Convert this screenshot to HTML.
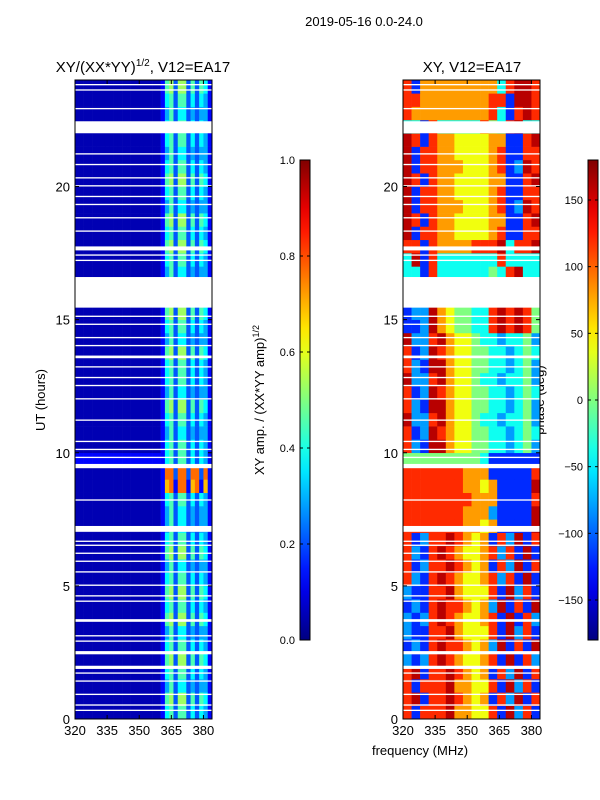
<!DOCTYPE html>
<html><head><meta charset="utf-8">
<style>
body{margin:0;background:#fff;}
svg{display:block;font-family:"Liberation Sans","DejaVu Sans",sans-serif;}
</style></head>
<body>
<svg id="chart" width="600" height="800" viewBox="0 0 600 800" xmlns="http://www.w3.org/2000/svg">
<text x="364" y="26" font-size="13" text-anchor="middle">2019-05-16 0.0-24.0</text>
<text x="143" y="72" font-size="15" text-anchor="middle">XY/(XX*YY)<tspan font-size="10" dy="-6">1/2</tspan><tspan dy="6">, V12=EA17</tspan></text>
<text x="472" y="72" font-size="15" text-anchor="middle">XY, V12=EA17</text>
<text x="420" y="755" font-size="13" text-anchor="middle">frequency (MHz)</text>
<text x="45" y="400" font-size="13" text-anchor="middle" transform="rotate(-90 45 400)">UT (hours)</text>
<text x="264" y="400" font-size="13" text-anchor="middle" transform="rotate(-90 264 400)">XY amp. / (XX*YY amp)<tspan font-size="9" dy="-5">1/2</tspan></text>
<text x="544" y="400" font-size="13" text-anchor="middle" transform="rotate(-90 544 400)">phase (deg)</text>
<g id="left"></g>
<g id="right"></g>
<g id="flags"></g>
<g id="axes"></g>
<g id="cbars"></g>
</svg>
<script>
// ---- data ----
const freqBinsLeft = 32;      // 2 MHz channels, 320-384
const freqBinsRight = 16;     // 4 MHz channels, 320-384
// amplitude rows (0.5 h each, from 0 h upward); digit d -> amp 0.05+0.08*d
const ampRows = [
"00000000000000000000145255242431","00000000000000000000156266252541","00000000000000000000135244232331",
"00000000000000000000145255242431","00000000000000000000156266252541","00000000000000000000145255242431",
"00000000000000000000135244232331","00000000000000000000156266252541","00000000000000000000145255242431",
"00000000000000000000156266252541","00000000000000000000145255242431","00000000000000000000135244232331",
"00000000000000000000156266252541","00000000000000000000145255242431","00000000000000000000135244232331",
"00000000000000000000135244232331","00000000000000000000145255242431","00000000000000000000189199189181",
"00000000000000000000199299299291","11111111111111111111145255242431","00000000000000000000145255242431",
"00000000000000000000135244232331","00000000000000000000145255242431","00000000000000000000156266252541",
"00000000000000000000135244232331","00000000000000000000145255242431","00000000000000000000145255242431",
"00000000000000000000156266252541","00000000000000000000135244232331","00000000000000000000145255242431",
"00000000000000000000156266252541","00000000000000000000145255242431","00000000000000000000145255242431",
"00000000000000000000135244232331","00000000000000000000145255242431","00000000000000000000156266252541",
"00000000000000000000145255242431","00000000000000000000156266252541","00000000000000000000135244232331",
"00000000000000000000145255242431","00000000000000000000156266252541","00000000000000000000145255242431",
"00000000000000000000135244232331","00000000000000000000145255242431","00000000000000000000145255242431",
"00000000000000000000135244232331","00000000000000000000145255242431","00000000000000000000156266252541"];
// phase rows (0.5 h each); digit d -> phase -160+40*d deg
const phaseRows = [
"7177786655718271","7817787656172817","7177786655718271","7817787656172817",
"2127876556718172","1217877656281718","2117786555718271","2127876556718172","1217877656281718","2117786555718271",
"7217876556727181","7127787656172817","7217876556727181","7127787656172817",
"7777777665611118","7777777666211118","7777777766611117","7777777665611118","7777777666111117",
"4444444443111111",
"7218865544332342","7128765544332343","8227865543323342","7218865544332342","7128765544332343",
"8227865543323342","7218865544332342","7128765544332343","8227865543323342",
"1128654433787874","1228654433787874",
"3333333333333333","3333333333333333",
"3317333333437833","3817333333373333","7717666677783778",
"8177665555671177","8717665555661178","8177666555671287","8177665555671177","8717665555661178",
"8177666555671287","8177665555671177","8717665555661178",
"3317333337437833","7666666666731787","7766666666771887","7166666666637887"];
// flagged (blanked) time ranges in hours
const flagStart = [15.45,22.0,9.42,7.03,2.43,1.88,17.6,3.65,13.55,0.3,0.5,0.9,1.4,1.7,2.9,3.1,4.4,4.6,5.0,5.5,5.9,6.2,6.5,6.65,8.2,9.8,10.1,10.4,11.2,12.0,12.5,12.8,13.2,14.0,14.3,14.8,15.1,17.2,17.4,18.3,18.8,19.3,19.6,20.0,20.3,20.8,21.2,22.9,23.6,23.8];
const flagEnd   = [16.6,22.45,9.58,7.25,2.55,2.0,17.75,3.75,13.65,0.35,0.55,0.95,1.45,1.75,2.95,3.15,4.45,4.65,5.05,5.55,5.95,6.25,6.55,6.7,8.25,9.85,10.15,10.45,11.25,12.05,12.55,12.85,13.25,14.05,14.35,14.85,15.15,17.25,17.45,18.35,18.85,19.35,19.65,20.05,20.35,20.85,21.25,22.95,23.65,23.85];
const xTicks = [320,335,350,365,380];
const yTicks = [0,5,10,15,20];
const ampTicks = [0.0,0.2,0.4,0.6,0.8,1.0];
const phaseTicks = [-150,-100,-50,0,50,100,150];

// ---- helpers ----
const NS="http://www.w3.org/2000/svg";
function jet(v){v=Math.max(0,Math.min(1,v));
 const r=Math.max(0,Math.min(1,1.5-Math.abs(4*v-3)));
 const g=Math.max(0,Math.min(1,1.5-Math.abs(4*v-2)));
 const b=Math.max(0,Math.min(1,1.5-Math.abs(4*v-1)));
 return `rgb(${Math.round(r*255)},${Math.round(g*255)},${Math.round(b*255)})`;}
function mk(tag,attrs,parent){const e=document.createElementNS(NS,tag);for(const k in attrs)e.setAttribute(k,attrs[k]);parent.appendChild(e);return e;}
const Y0=719,Y1=80;
function yS(h){return Y0-(h/24)*(Y0-Y1);}
function xSL(f){return 75+(f-320)/64*137;}
function xSR(f){return 403+(f-320)/64*137;}

const L=document.getElementById('left'),R=document.getElementById('right'),F=document.getElementById('flags');
ampRows.forEach((row,ri)=>{
 for(let c=0;c<freqBinsLeft;c++){
  const f0=320+c*64/freqBinsLeft,f1=f0+64/freqBinsLeft;
  const r=mk('rect',{x:xSL(f0),y:yS(ri*0.5+0.5),width:xSL(f1)-xSL(f0)+0.3,height:yS(ri*0.5)-yS(ri*0.5+0.5)+0.3,fill:jet(0.05+0.08*(+row[c]))},L);
  
  
 }});
phaseRows.forEach((row,ri)=>{
 for(let c=0;c<freqBinsRight;c++){
  const f0=320+c*64/freqBinsRight,f1=f0+64/freqBinsRight;
  const ph=-160+40*(+row[c]);
  const r=mk('rect',{x:xSR(f0),y:yS(ri*0.5+0.5),width:xSR(f1)-xSR(f0)+0.3,height:yS(ri*0.5)-yS(ri*0.5+0.5)+0.3,fill:jet((ph+180)/360)},R);
  
  
 }});
flagStart.forEach((s,i)=>{
 [[75,137],[403,137]].forEach(([x,w])=>{
  const r=mk('rect',{x:x,y:yS(flagEnd[i]),width:w,height:Math.max(1.2,yS(s)-yS(flagEnd[i])),fill:'#fff'},F);
  
  
 });});

const A=document.getElementById('axes');
[[75,xSL],[403,xSR]].forEach(([x0,xs])=>{
 const fr=mk('rect',{x:x0,y:Y1,width:137,height:Y0-Y1,fill:'none',stroke:'#000','stroke-width':1},A);
 
 
 xTicks.forEach(t=>{const x=xs(t);
  mk('line',{x1:x,x2:x,y1:Y0,y2:Y0-4,stroke:'#000'},A);
  mk('line',{x1:x,x2:x,y1:Y1,y2:Y1+4,stroke:'#000'},A);
  const tx=mk('text',{x:x,y:Y0+16,'font-size':13,'text-anchor':'middle'},A);tx.textContent=t;
  
  });
 yTicks.forEach(t=>{const y=yS(t);
  mk('line',{x1:x0,x2:x0+4,y1:y,y2:y,stroke:'#000'},A);
  mk('line',{x1:x0+137,x2:x0+133,y1:y,y2:y,stroke:'#000'},A);
  const tx=mk('text',{x:x0-5,y:y+5,'font-size':13,'text-anchor':'end'},A);tx.textContent=t;
  
  });
});

const C=document.getElementById('cbars');
function cbar(x,ticks,norm,fmt,name){
 const id='g'+name;const d=mk('defs',{},C);
 const lg=mk('linearGradient',{id:id,x1:0,y1:1,x2:0,y2:0},d);
 for(let i=0;i<=20;i++)mk('stop',{offset:i/20,'stop-color':jet(i/20)},lg);
 const r=mk('rect',{x:x,y:160,width:10,height:480,fill:`url(#${id})`,stroke:'#000','stroke-width':1},C);
 
 
 ticks.forEach(t=>{const y=640-norm(t)*480;
  mk('line',{x1:x,x2:x+3,y1:y,y2:y,stroke:'#000'},C);
  mk('line',{x1:x+10,x2:x+7,y1:y,y2:y,stroke:'#000'},C);
  const tx=mk('text',{x:x-5,y:y+4,'font-size':11,'text-anchor':'end'},C);tx.textContent=fmt(t);
  
  });
}
cbar(300,ampTicks,v=>v,v=>v.toFixed(1),'amp-colorbar');
cbar(588,phaseTicks,v=>(v+180)/360,v=>v<0?'\u2212'+(-v):''+v,'phase-colorbar');
</script>
</body></html>
